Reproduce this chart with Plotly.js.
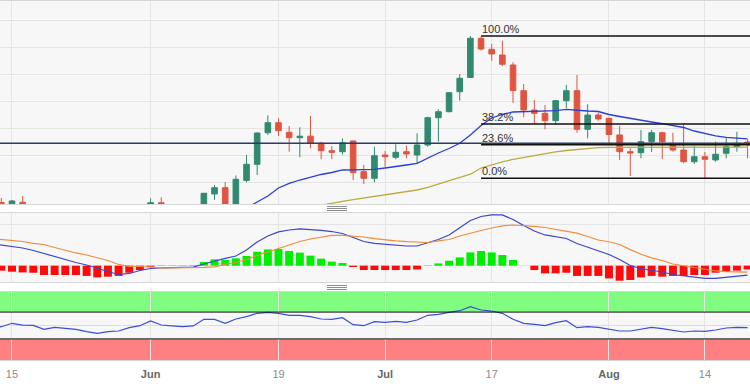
<!DOCTYPE html>
<html><head><meta charset="utf-8">
<script src="https://cdn.plot.ly/plotly-3.0.1.min.js"></script>
<style>html,body{margin:0;padding:0;background:#fff}#chart{width:750px;height:386px}</style>
</head><body><div id="chart"></div>
<script>
const dates = ['2023-05-11','2023-05-12','2023-05-15','2023-05-16','2023-05-17','2023-05-18','2023-05-19',
'2023-05-22','2023-05-23','2023-05-24','2023-05-25','2023-05-26','2023-05-29','2023-05-30','2023-05-31',
'2023-06-01','2023-06-02','2023-06-05','2023-06-06','2023-06-07','2023-06-08','2023-06-09',
'2023-06-12','2023-06-13','2023-06-14','2023-06-15','2023-06-16','2023-06-19','2023-06-20','2023-06-21',
'2023-06-22','2023-06-23','2023-06-26','2023-06-27','2023-06-28','2023-06-29','2023-06-30',
'2023-07-03','2023-07-04','2023-07-05','2023-07-06','2023-07-07','2023-07-10','2023-07-11','2023-07-12',
'2023-07-13','2023-07-14','2023-07-17','2023-07-18','2023-07-19','2023-07-20','2023-07-21',
'2023-07-24','2023-07-25','2023-07-26','2023-07-27','2023-07-28','2023-07-31','2023-08-01','2023-08-02',
'2023-08-03','2023-08-04','2023-08-07','2023-08-08','2023-08-09','2023-08-10','2023-08-11',
'2023-08-14','2023-08-15','2023-08-16','2023-08-17','2023-08-18'];

const open = [1.2575,1.25252,1.2450,1.25259,1.2480,1.2430,1.2410,1.2445,1.2430,1.2410,1.2350,1.2325,1.2345,1.2365,1.2390,
1.2435,1.25245,1.2440,1.2440,1.2430,1.2490,1.25567,1.25800,1.25159,1.26067,1.26667,1.27837,1.28208,1.27852,1.27652,
1.27708,1.27445,1.27170,1.27134,1.27530,1.26393,1.26148,1.27011,1.26926,1.27134,1.27011,1.27382,1.28393,1.28615,1.29356,
1.29882,1.31334,1.30926,1.30715,1.30345,1.29393,1.28678,1.28556,1.28282,1.29022,1.29393,1.27963,1.28493,1.28371,1.27752,
1.27134,1.27096,1.27504,1.27837,1.27382,1.27196,1.26763,1.26948,1.26826,1.27074,1.27319,1.27490];
const high = [1.2580,1.25419,1.25345,1.25493,1.2505,1.2470,1.2470,1.2470,1.2445,1.2420,1.2365,1.2370,1.2390,1.2410,1.2445,
1.25408,1.25445,1.2475,1.2450,1.2500,1.25604,1.25900,1.26011,1.26252,1.27011,1.27845,1.28474,1.28371,1.28085,1.28037,
1.28456,1.27504,1.27345,1.27622,1.27548,1.26641,1.27319,1.27159,1.27408,1.27356,1.27815,1.28430,1.28704,1.29345,1.30011,
1.31419,1.31400,1.31122,1.31245,1.30445,1.29641,1.29048,1.28863,1.29048,1.29604,1.29974,1.28889,1.28578,1.28389,1.28085,
1.27259,1.27937,1.27937,1.27874,1.27837,1.28185,1.27345,1.27122,1.27504,1.27652,1.27874,1.27593];
const low = [1.2485,1.2440,1.2440,1.2465,1.2425,1.2390,1.2405,1.2415,1.2375,1.2340,1.2310,1.2305,1.2335,1.2345,1.2350,
1.2425,1.2420,1.2370,1.2370,1.2405,1.2475,1.25345,1.2505,1.2505,1.25993,1.26271,1.27752,1.27715,1.27134,1.26926,
1.27259,1.26852,1.26863,1.27030,1.26085,1.25937,1.26000,1.26578,1.26852,1.26889,1.26704,1.27319,1.27504,1.28593,1.29030,
1.29863,1.30874,1.30504,1.30308,1.28937,1.28408,1.28159,1.27963,1.28122,1.28741,1.27837,1.27630,1.28282,1.27456,1.26826,
1.26234,1.26889,1.27122,1.26863,1.27134,1.26704,1.26678,1.26148,1.26763,1.26889,1.27134,1.26889];
const close = [1.2505,1.2445,1.25308,1.2480,1.2430,1.2410,1.2445,1.2430,1.2410,1.2350,1.2325,1.2345,1.2365,1.2390,1.2435,
1.25245,1.2440,1.2440,1.2430,1.2490,1.25593,1.25800,1.25141,1.26111,1.26667,1.27826,1.28208,1.27911,1.27652,1.27708,
1.27467,1.27170,1.27111,1.27467,1.26356,1.26148,1.26985,1.26948,1.27111,1.27048,1.27382,1.28393,1.28615,1.29319,1.29852,
1.31334,1.30937,1.30752,1.30371,1.29400,1.28678,1.28556,1.28282,1.29022,1.29393,1.27963,1.28493,1.28345,1.27771,1.27134,
1.27085,1.27504,1.27837,1.27504,1.27196,1.26763,1.26948,1.26852,1.27037,1.27319,1.27445,1.27445];

const sma20 = [1.2505,1.2500,1.2497,1.2493,1.2488,1.2482,1.2478,1.2472,1.2465,1.2458,1.2450,1.2443,1.2438,1.2433,1.2430,
1.2428,1.2425,1.2423,1.2421,1.2424,1.2430,1.2440,1.2452,1.2468,1.25048,1.25271,1.25493,1.25789,1.25956,1.26085,
1.26196,1.26289,1.26363,1.26456,1.26463,1.26463,1.26482,1.26530,1.26578,1.26641,1.26704,1.26900,1.27085,1.27252,1.27445,
1.27752,1.28104,1.28382,1.28511,1.28604,1.28615,1.28615,1.28630,1.28652,1.28704,1.28659,1.28641,1.28622,1.28511,1.28437,
1.28363,1.28282,1.28233,1.28170,1.28104,1.28030,1.27900,1.27800,1.27722,1.27667,1.27637,1.27611];
const sma50 = [1.2420,1.2422,1.2425,1.2427,1.2428,1.2430,1.2431,1.2433,1.2434,1.2435,1.2436,1.2437,1.2438,1.2440,1.2442,
1.2445,1.2447,1.2449,1.2451,1.2453,1.2456,1.2459,1.2462,1.2466,1.2471,1.2477,1.2484,1.2490,1.2497,1.2503,
1.2509,1.2515,1.25233,1.25296,1.25356,1.25419,1.25467,1.25519,1.25585,1.25648,1.25715,1.25808,1.25926,1.26048,1.26178,
1.26300,1.26530,1.26659,1.26759,1.26848,1.26919,1.26993,1.27067,1.27130,1.27178,1.27222,1.27259,1.27285,1.27296,1.27296,
1.27300,1.27300,1.27296,1.27296,1.27293,1.27289,1.27285,1.27285,1.27289,1.27293,1.27296,1.27300];

const macd = [21.4,20.0,18.5,17.1,14.7,11.8,8.4,5.5,3.1,0.7,-2.7,-5.6,-8.5,-7.5,-4.6,
-2.7,-2.2,-1.7,-1.5,-1.3,1.6,4.5,7.0,9.4,15.2,22.9,28.7,32.6,34.5,35.6,
35.2,34.2,33.0,31.1,27.2,23.4,21.6,20.5,19.5,19.0,19.0,22.1,25.3,29.7,36.4,
43.7,47.5,49.0,49.0,44.6,38.8,33.5,29.7,27.7,26.3,21.4,18.1,14.7,10.8,6.0,
0.2,-2.7,-4.2,-6.1,-8.5,-9.9,-11.4,-12.2,-12.2,-11.4,-10.4,-9.2];
const signal = [26.3,25.3,24.3,23.4,21.6,20.5,17.6,14.7,12.3,10.3,7.9,5.0,1.2,-0.8,-0.8,
-1.7,-2.2,-2.2,-2.2,-2.2,-1.7,-1.1,1.4,3.1,6.0,9.9,13.2,17.1,20.5,23.4,
25.8,27.7,29.2,29.2,28.7,27.7,26.1,24.8,23.9,23.2,22.6,22.4,23.9,25.3,28.7,
31.6,34.0,36.4,38.5,39.3,38.8,37.9,36.9,35.3,33.5,31.4,28.2,24.8,23.1,20.5,
15.5,11.0,7.5,5.0,1.6,0.0,-2.0,-3.5,-5.1,-5.7,-5.7,-6.3];
const hist = [-4.7,-4.8,-5.8,-6.5,-6.8,-9.0,-9.0,-9.0,-9.0,-9.9,-11.3,-10.6,-9.9,-6.8,-4.2,
-1.0,-0.2,0.3,0.3,0.5,3.6,6.1,5.5,7.1,9.4,13.5,15.7,16.1,14.2,12.6,
9.7,6.8,3.9,2.6,-1.3,-4.2,-4.2,-4.2,-4.2,-4.2,-3.6,-0.2,2.2,4.8,8.0,
12.8,14.2,12.8,10.3,5.5,0,-4.2,-7.4,-7.4,-6.8,-9.9,-9.9,-9.9,-12.3,-14.5,
-13.8,-11.3,-9.9,-10.6,-9.9,-9.9,-9.0,-9.0,-6.8,-5.8,-4.8,-3.6];
const rsi = [45.0,48.2,53.3,50.7,50.2,44.3,47.3,45.8,44.3,40.8,38.3,40.8,41.8,46.7,49.7,
56.7,50.7,49.3,48.2,49.3,59.2,59.2,53.3,59.7,63.2,68.2,69.7,68.2,65.2,65.2,
63.2,59.7,59.2,61.7,51.2,49.7,55.7,54.7,56.2,54.7,58.2,65.2,66.7,69.7,72.1,
78.1,73.1,71.6,68.2,59.2,53.3,51.8,49.7,54.2,57.2,46.7,48.2,47.3,44.8,41.8,
41.8,44.3,47.3,45.2,43.3,40.3,41.8,41.3,43.3,46.3,47.3,46.7];

const tickDates = ['2023-05-15','2023-06-01','2023-06-19','2023-07-03','2023-07-17','2023-08-01','2023-08-14'];
const tickLabels = ['15','Jun','19','Jul','17','Aug','14'];
const fibLevels = [1, 0.382, 0.236, 0];
const fibFrom = '2023-07-13';
const fibLineFrom = '2023-07-14';

const UP = '#318a70', DN = '#de5641';
const GRID = '#e4e4e4';

const fi = dates.indexOf(fibFrom);
const fibHi = Math.max(...high.slice(fi));
const fibLo = Math.min(...low.slice(fi));
const fx = dates.indexOf(fibLineFrom);

const traces = [
  {type:'candlestick', x:dates, open:open, high:high, low:low, close:close, xaxis:'x', yaxis:'y',
   increasing:{line:{color:UP,width:1}, fillcolor:UP}, decreasing:{line:{color:DN,width:1}, fillcolor:DN},
   whiskerwidth:0, hoverinfo:'skip'},
  {type:'scatter', mode:'lines', x:dates, y:sma20, xaxis:'x', yaxis:'y', line:{color:'#2a3ed8', width:1.3}},
  {type:'scatter', mode:'lines', x:dates, y:sma50, xaxis:'x', yaxis:'y', line:{color:'#bcaa3e', width:1.3}},
  {type:'bar', x:dates, y:hist, xaxis:'x2', yaxis:'y2', marker:{color:hist.map(v => v >= 0 ? '#00ee00' : '#ff0a0a')}},
  {type:'scatter', mode:'lines', x:dates, y:macd, xaxis:'x2', yaxis:'y2', line:{color:'#3a45d0', width:1.2}},
  {type:'scatter', mode:'lines', x:dates, y:signal, xaxis:'x2', yaxis:'y2', line:{color:'#f28c3a', width:1.2}},
  {type:'scatter', mode:'lines', x:dates, y:rsi, xaxis:'x3', yaxis:'y3', line:{color:'#3a4fd6', width:1.2}}
];

const xRange = [dates.indexOf('2023-05-15') - 1.125, dates.indexOf('2023-05-15') + 69.23];
function xax(anchor, labels) {
  return {type:'category', anchor:anchor, range:xRange, tickvals:tickDates,
    ticktext: tickLabels.map(t => /^[A-Z]/.test(t) ? '<b><span style="color:#666">'+t+'</span></b>' : t),
    showticklabels:labels, ticks: labels ? 'outside' : '', ticklen:4, tickcolor:'rgba(0,0,0,0)',
    tickfont:{family:'Liberation Sans, Arial, sans-serif', size:11, color:'#8a8a8a'},
    showgrid:true, gridcolor:GRID, gridwidth:1, zeroline:false,
    showline:true, mirror:true, linecolor:'#d6d6d6', linewidth:1,
    rangeslider:{visible:false}, fixedrange:true, matches: anchor==='y' ? undefined : 'x'};
}

const shapes = [];
const annotations = [];
// RSI bands
shapes.push({type:'rect', xref:'x3', yref:'y3', x0:-5, x1:dates.length+5, y0:70, y1:100, fillcolor:'#80fd80', line:{width:0}, layer:'below'});
shapes.push({type:'rect', xref:'x3', yref:'y3', x0:-5, x1:dates.length+5, y0:-5, y1:30, fillcolor:'#fe8080', line:{width:0}, layer:'below'});
[70,30].forEach(v => shapes.push({type:'line', xref:'x3', yref:'y3', x0:-5, x1:dates.length+5, y0:v, y1:v, line:{color:'#111', width:1}}));
// current price line
shapes.push({type:'line', xref:'x', yref:'y', x0:-5, x1:dates.length+5, y0:close[close.length-1], y1:close[close.length-1], line:{color:'#2b3a68', width:1.4}});
// fibonacci levels
fibLevels.forEach(l => {
  const y = fibLo + l*(fibHi - fibLo);
  shapes.push({type:'line', xref:'x', yref:'y', x0:fx, x1:dates.length+5, y0:y, y1:y, line:{color:'#111', width:1.4}});
  annotations.push({xref:'x', yref:'y', x:fx, y:y, text:(l*100).toFixed(1)+'%', showarrow:false,
    xanchor:'left', yanchor:'bottom', xshift:-1, yshift:-1, font:{family:'Liberation Sans, Arial, sans-serif', size:11, color:'#333'}});
});
// panel separator handles (three thin grey strokes each)
[[0.42758,0.42201,0.41643],[0.20752,0.20195,0.19638]].forEach(ys => ys.forEach(y =>
  shapes.push({type:'line', xref:'paper', yref:'paper', x0:0.436, x1:0.4627, y0:y, y1:y, line:{color:'#8c8c8c', width:1}})));

const layout = {
  width:750, height:386, margin:{l:0, r:0, t:1, b:26},
  paper_bgcolor:'#ffffff', plot_bgcolor:'#f7f7f7', showlegend:false, hovermode:false,
  bargap:0.25, boxgap:0.25,
  xaxis: xax('y', false), xaxis2: xax('y2', false), xaxis3: xax('y3', true),
  yaxis:{domain:[0.43454,1], range:[1.25196,1.32715], tick0:1.26, dtick:0.01, showticklabels:false,
    showgrid:true, gridcolor:GRID, zeroline:false, fixedrange:true},
  yaxis2:{domain:[0.21727,0.40947], range:[-15.75,50.9], tickvals:[0,40], showticklabels:false,
    showgrid:true, gridcolor:GRID, zeroline:false, fixedrange:true},
  yaxis3:{domain:[0,0.18942], range:[-1.5,100], tickvals:[50], showticklabels:false,
    showgrid:true, gridcolor:'#dddddd', zeroline:false, fixedrange:true},
  shapes:shapes, annotations:annotations,
  font:{family:'Liberation Sans, Arial, sans-serif'}
};
Plotly.newPlot('chart', traces, layout, {staticPlot:true, displayModeBar:false});
</script>
</body></html>
